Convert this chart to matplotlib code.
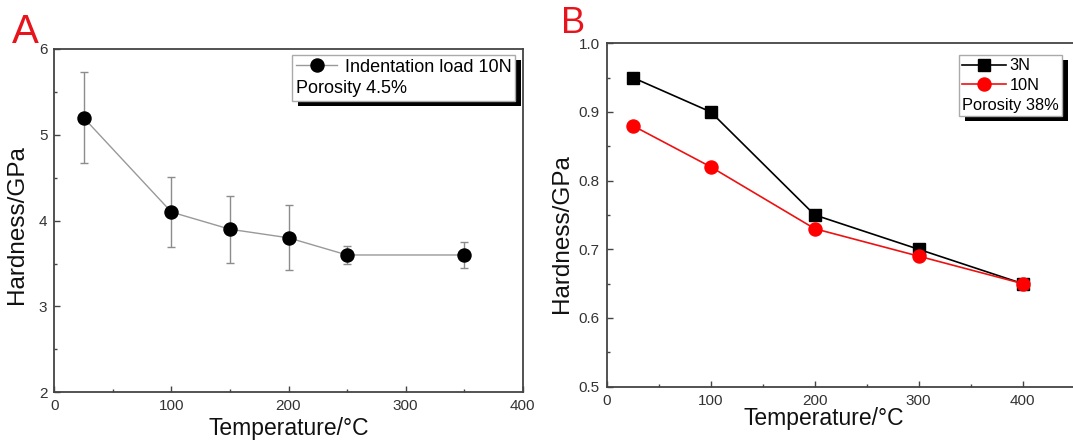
import matplotlib.pyplot as plt
from matplotlib.patches import Rectangle
from matplotlib.ticker import MultipleLocator

plt.rcParams['font.family'] = ['Liberation Sans', 'DejaVu Sans']

# A: dense sample (porosity 4.5%), indentation load 10N
temp_a = [25, 100, 150, 200, 250, 350]
hard_a = [5.2, 4.1, 3.9, 3.8, 3.6, 3.6]
err_a = [0.53, 0.41, 0.39, 0.38, 0.10, 0.15]

# B: porous sample (porosity 38%), two loads
temp_b = [25, 100, 200, 300, 400]
hard_b_3n = [0.95, 0.90, 0.75, 0.70, 0.65]
hard_b_10n = [0.88, 0.82, 0.73, 0.69, 0.65]

W, H = 1073, 443
fig = plt.figure(figsize=(W / 100, H / 100), dpi=100)


def px_axes(left, top, right, bottom):
    # axes placed by pixel edges
    return fig.add_axes([left / W, 1 - bottom / H, (right - left) / W, (bottom - top) / H])


def style_axes(ax):
    for sp in ax.spines.values():
        sp.set_color('#444444')
        sp.set_linewidth(1.3)
    ax.tick_params(which='both', direction='in', color='#444444', width=1.0,
                   labelsize=11, labelcolor='#333333', pad=5)
    ax.tick_params(which='major', length=4.5)
    ax.tick_params(which='minor', length=2.5)


def add_shadow(ax, leg, dx=6, dy=5):
    # solid black box behind the legend frame, shifted right/down
    fig.canvas.draw()
    bb = leg.get_frame().get_window_extent()
    inv = ax.transAxes.inverted()
    (x0, y0), (x1, y1) = inv.transform([(bb.x0 + dx, bb.y0 - dy), (bb.x1 + dx, bb.y1 - dy)])
    ax.add_patch(Rectangle((x0, y0), x1 - x0, y1 - y0, transform=ax.transAxes,
                           facecolor='black', edgecolor='none', clip_on=False, zorder=4.9))


def porosity_last(leg):
    # put the legend title under the entries
    leg._legend_box._children.reverse()


ax_a = px_axes(54.3, 49, 522.7, 392.3)
ax_b = px_axes(606.7, 43.2, 1074.7, 386.7)

# ---- panel A ----
ax_a.errorbar(temp_a, hard_a, yerr=err_a, fmt='none', ecolor='#8c8c8c',
              elinewidth=1.0, capsize=2.6, capthick=1.0, zorder=2)
line_a, = ax_a.plot(temp_a, hard_a, color='#999999', lw=1.0, marker='o',
                    ms=9.4, mfc='black', mec='black', zorder=3)
ax_a.set_xlim(0, 400)
ax_a.set_ylim(2, 6)
ax_a.xaxis.set_major_locator(MultipleLocator(100))
ax_a.xaxis.set_minor_locator(MultipleLocator(50))
ax_a.yaxis.set_major_locator(MultipleLocator(1))
ax_a.yaxis.set_minor_locator(MultipleLocator(0.5))
style_axes(ax_a)
ax_a.set_xlabel('Temperature/°C', fontsize=16.5, color='#111111')
ax_a.set_ylabel('Hardness/GPa', fontsize=17.5, color='#111111')
ax_a.xaxis.set_label_coords(0.5, -0.072)
ax_a.yaxis.set_label_coords(-0.056, 0.49)

leg_a = ax_a.legend(handles=[line_a], labels=['Indentation load 10N'],
                    title='Porosity 4.5%', title_fontsize=13, fontsize=13,
                    alignment='left', loc='upper right',
                    bbox_to_anchor=(0.9836, 0.9825), borderaxespad=0,
                    fancybox=False, framealpha=1, edgecolor='#aaaaaa',
                    handlelength=2.3, handletextpad=0.4,
                    borderpad=0.2, labelspacing=0.27)
leg_a.get_frame().set_linewidth(1.0)
porosity_last(leg_a)

# ---- panel B ----
line_3n, = ax_b.plot(temp_b, hard_b_3n, color='black', lw=1.2, marker='s',
                     ms=8.6, mfc='black', mec='black', zorder=3)
line_10n, = ax_b.plot(temp_b, hard_b_10n, color='#ee1111', lw=1.2, marker='o',
                      ms=9.4, mfc='#ff0000', mec='#ff0000', zorder=4)
ax_b.set_xlim(0, 450)
ax_b.set_ylim(0.5, 1.0)
ax_b.xaxis.set_major_locator(MultipleLocator(100))
ax_b.xaxis.set_minor_locator(MultipleLocator(50))
ax_b.yaxis.set_major_locator(MultipleLocator(0.1))
ax_b.yaxis.set_minor_locator(MultipleLocator(0.05))
style_axes(ax_b)
ax_b.set_xlabel('Temperature/°C', fontsize=16.5, color='#111111')
ax_b.set_ylabel('Hardness/GPa', fontsize=17.5, color='#111111')
ax_b.xaxis.set_label_coords(0.464, -0.058)
ax_b.yaxis.set_label_coords(-0.072, 0.445)

leg_b = ax_b.legend(handles=[line_3n, line_10n], labels=['3N', '10N'],
                    title='Porosity 38%', title_fontsize=11.8, fontsize=11.8,
                    alignment='left', loc='upper right',
                    bbox_to_anchor=(0.9729, 0.9657), borderaxespad=0,
                    fancybox=False, framealpha=1, edgecolor='#aaaaaa',
                    handlelength=2.7, handletextpad=0.2,
                    borderpad=0.2, labelspacing=0.3)
leg_b.get_frame().set_linewidth(1.0)
porosity_last(leg_b)

add_shadow(ax_a, leg_a)
add_shadow(ax_b, leg_b)

# panel letters
fig.text(12 / W, 1 - 43 / H, 'A', color='#e8141c', fontsize=29, va='baseline', ha='left')
fig.text(560.5 / W, 1 - 33 / H, 'B', color='#e8141c', fontsize=26, va='baseline', ha='left')

fig.savefig('out.png', dpi=100)
